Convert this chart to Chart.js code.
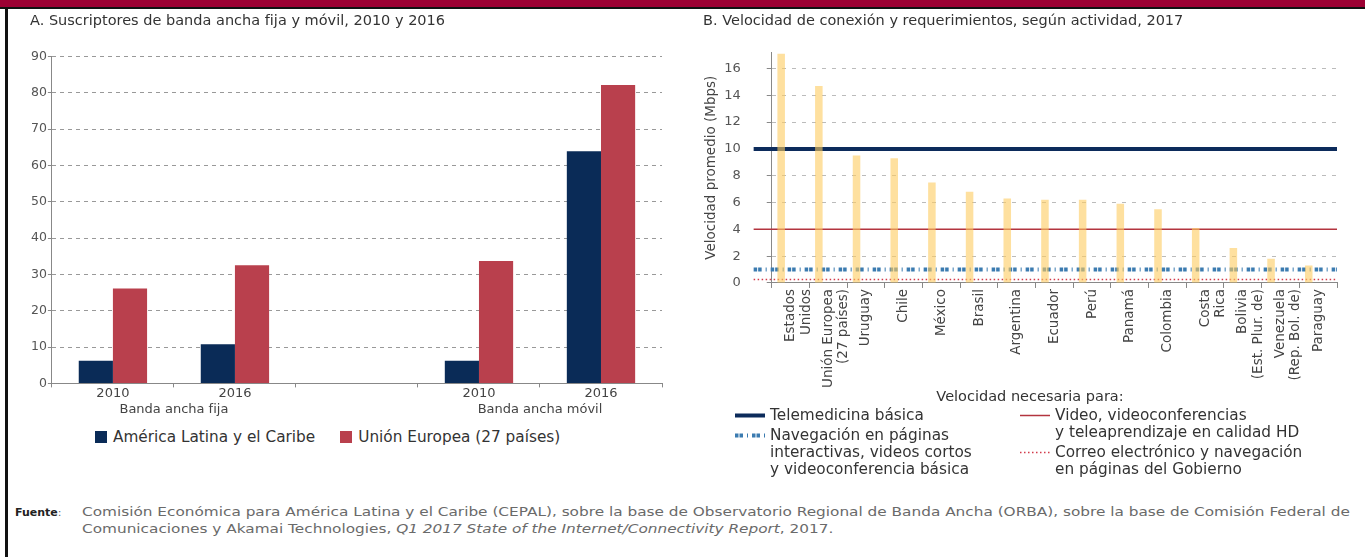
<!DOCTYPE html>
<html lang="es">
<head>
<meta charset="utf-8">
<script src="https://cdn.jsdelivr.net/npm/chart.js@4.4.1/dist/chart.umd.min.js"></script>
<style>
  body { margin: 0; width: 1365px; height: 557px; background: #fff; position: relative; overflow: hidden; font-family: "DejaVu Sans", sans-serif; }
  #band { position: absolute; left: 0; top: 0; width: 1365px; height: 7px; background: #9c0033; }
  #rule { position: absolute; left: 0; top: 7px; width: 1365px; height: 2px; background: #111; }
  #side { position: absolute; left: 5px; top: 7px; width: 3px; height: 550px; background: #111; }
  canvas { position: absolute; }
  #chartA { left: 8px; top: 10px; }
  #chartB { left: 690px; top: 10px; }
  #legendA { position: absolute; left: 95px; top: 428px; display: flex; font-size: 15.3px; line-height: 18px; color: #333; }
  #legendA .item { display: flex; align-items: center; margin-right: 25px; }
  #legendA .box { width: 12px; height: 12px; margin-right: 6px; }
  #legendTitle { position: absolute; left: 880px; width: 300px; top: 387px; text-align: center; font-size: 14.5px; line-height: 18px; color: #333; }
  .col { position: absolute; top: 407px; font-size: 15.3px; line-height: 17px; color: #333; }
  .col .item { display: flex; margin-bottom: 3px; }
  .col svg { flex: none; margin-right: 5px; }
  .foot { position: absolute; top: 504px; font-size: 11.5px; line-height: 17px; color: #6a6a6a; white-space: nowrap; }
  #fuente { left: 15px; font-size: 11px; }
  #fuente b { color: #222; }
  #src { left: 82px; transform-origin: 0 0; }
</style>
</head>
<body>
<div id="band"></div>
<div id="rule"></div>
<div id="side"></div>
<canvas id="chartA" width="680" height="408"></canvas>
<canvas id="chartB" width="660" height="382"></canvas>
<div id="legendA"></div>
<div id="legendTitle">Velocidad necesaria para:</div>
<div id="col1" class="col" style="left:735px"></div>
<div id="col2" class="col" style="left:1020px"></div>
<div id="fuente" class="foot"><b>Fuente</b>:</div>
<div id="src" class="foot">
  <span id="line1">Comisión Económica para América Latina y el Caribe (CEPAL), sobre la base de Observatorio Regional de Banda Ancha (ORBA), sobre la base de Comisión Federal de</span><br>
  <span>Comunicaciones y Akamai Technologies, <i>Q1 2017 State of the Internet/Connectivity Report</i>, 2017.</span>
</div>
<script>
// Panel A: suscriptores de banda ancha
const titleA = "A. Suscriptores de banda ancha fija y móvil, 2010 y 2016";
const catA = ["2010", "2016", "", "2010", "2016"];
const groupNames = ["Banda ancha fija", "Banda ancha móvil"];
const groupSpans = [[0, 1], [3, 4]];
const seriesA = ["América Latina y el Caribe", "Unión Europea (27 países)"];
const latam = [6.2, 10.8, null, 6.2, 63.9];
const ue = [26.1, 32.5, null, 33.7, 82.1];
const colorsA = ["#0a2b57", "#b9404d"];

// Panel B: velocidad de conexion
const titleB = "B. Velocidad de conexión y requerimientos, según actividad, 2017";
const countries = [["Estados", "Unidos"], ["Unión Europea", "(27 países)"], "Uruguay", "Chile", "México",
  "Brasil", "Argentina", "Ecuador", "Perú", "Panamá", "Colombia", ["Costa", "Rica"],
  ["Bolivia", "(Est. Plur. de)"], ["Venezuela", "(Rep. Bol. de)"], "Paraguay"];
const speed = [17.1, 14.7, 9.5, 9.3, 7.5, 6.8, 6.3, 6.2, 6.2, 5.9, 5.5, 4.1, 2.6, 1.8, 1.3];
const reqLabels = [
  ["Telemedicina básica"],
  ["Navegación en páginas", "interactivas, videos cortos", "y videoconferencia básica"],
  ["Video, videoconferencias", "y teleaprendizaje en calidad HD"],
  ["Correo electrónico y navegación", "en páginas del Gobierno"],
];
const reqValues = [10, 1, 4, 0.25];
const lineSpan = [-0.98, 14.5];
const reqStyles = [
  { color: "#0c2b5b", width: 4, dash: [] },
  { color: "#3b7bb0", width: 4, dash: [3.5, 1, 3.5, 4, 1, 4] },
  { color: "#b3343f", width: 1.5, dash: [] },
  { color: "#d23a4a", width: 1.5, dash: [1.5, 2.5] },
];
const legendCols = [[0, 1], [2, 3]];

Chart.defaults.font.family = "DejaVu Sans";
Chart.defaults.color = "#444";
Chart.defaults.animation = false;

new Chart(document.getElementById("chartA"), {
  type: "bar",
  data: {
    labels: catA,
    datasets: [
      { label: seriesA[0], data: latam, backgroundColor: colorsA[0] },
      { label: seriesA[1], data: ue, backgroundColor: colorsA[1] },
    ],
  },
  options: {
    responsive: false,
    layout: { padding: { left: 22, right: 26, top: 0, bottom: 0 } },
    categoryPercentage: 0.56,
    barPercentage: 1,
    plugins: {
      legend: { display: false },
      tooltip: { enabled: false },
      title: {
        display: true, text: titleA, align: "start", color: "#333",
        font: { size: 14.5, weight: "normal" }, padding: { top: 3, bottom: 26 },
      },
    },
    scales: {
      x: {
        grid: { drawOnChartArea: false, tickLength: 4, color: "#888" },
        border: { color: "#888" },
        ticks: { font: { size: 13, lineHeight: 1 }, padding: 0, maxRotation: 0, autoSkip: false },
      },
      xg: {
        type: "linear", position: "bottom", min: -0.5, max: 4.5, offset: false,
        grid: { display: false, drawTicks: false },
        border: { display: false },
        afterBuildTicks: (ax) => { ax.ticks = groupSpans.map((s) => ({ value: (s[0] + s[1]) / 2 })); },
        ticks: { callback: (v, i) => groupNames[i], font: { size: 13 }, padding: 1, maxRotation: 0, autoSkip: false },
      },
      y: {
        min: 0, max: 90,
        ticks: { stepSize: 10, font: { size: 12.5 }, padding: 1, color: "#555" },
        grid: { color: "#999", tickLength: 4, tickColor: "#888" },
        border: { color: "#888", dash: [4, 4] },
      },
    },
  },
});

new Chart(document.getElementById("chartB"), {
  type: "bar",
  data: {
    labels: countries,
    datasets: [
      {
        label: "Velocidad promedio", data: speed, backgroundColor: "rgba(253, 203, 95, 0.6)",
        barPercentage: 0.4, categoryPercentage: 1, order: 0,
      },
      ...reqValues.map((v, i) => ({
        type: "line", label: reqLabels[i].join(" "), xAxisID: "xr",
        data: lineSpan.map((x) => ({ x, y: v })),
        borderColor: reqStyles[i].color, borderWidth: reqStyles[i].width, borderDash: reqStyles[i].dash,
        pointRadius: 0, clip: false, order: 1,
      })),
    ],
  },
  options: {
    responsive: false,
    layout: { padding: { left: 13, right: 13, top: 0, bottom: 3 } },
    plugins: {
      legend: { display: false },
      tooltip: { enabled: false },
      title: {
        display: true, text: titleB, align: "start", color: "#333",
        font: { size: 14.5, weight: "normal" }, padding: { top: 3, bottom: 22 },
      },
    },
    scales: {
      x: {
        grid: { drawOnChartArea: false, tickLength: 5, color: "#888" },
        border: { color: "#888" },
        ticks: { font: { size: 13.5, lineHeight: 1.15 }, minRotation: 90, maxRotation: 90, autoSkip: false, padding: 1 },
      },
      xr: { type: "linear", display: false, min: -0.5, max: 14.5, offset: false },
      y: {
        min: 0, max: 17.2,
        afterBuildTicks: (ax) => { ax.ticks = ax.ticks.filter((t) => t.value % 2 === 0); },
        ticks: { stepSize: 2, font: { size: 13 }, padding: 26, color: "#555" },
        grid: { color: "#bbb", tickLength: 5, tickColor: "#888" },
        border: { color: "#888", dash: [4, 6] },
        // tick padding counts twice in the axis width, the negative padding gives it back
        title: { display: true, text: "Velocidad promedio (Mbps)", font: { size: 13.5 }, color: "#444", padding: { top: 0, bottom: -21 } },
      },
    },
  },
});

// HTML legends
const legendA = document.getElementById("legendA");
seriesA.forEach((name, i) => {
  const item = document.createElement("div");
  item.className = "item";
  item.innerHTML = `<span class="box" style="background:${colorsA[i]}"></span><span>${name}</span>`;
  legendA.appendChild(item);
});

legendCols.forEach((idxs, c) => {
  const col = document.getElementById("col" + (c + 1));
  idxs.forEach((i) => {
    const s = reqStyles[i];
    const item = document.createElement("div");
    item.className = "item";
    item.innerHTML = `
      <svg width="30" height="17"><line x1="0" y1="8.5" x2="30" y2="8.5" stroke="${s.color}"
        stroke-width="${s.width}" stroke-dasharray="${s.dash.join(" ")}"/></svg>
      <div>${reqLabels[i].join("<br>")}</div>`;
    col.appendChild(item);
  });
});

// source note: the original type is wide, stretch it so line 1 ends at the right margin
const stretch = 1268 / document.getElementById("line1").offsetWidth;
document.getElementById("src").style.transform = `scaleX(${stretch})`;
</script>
</body>
</html>
